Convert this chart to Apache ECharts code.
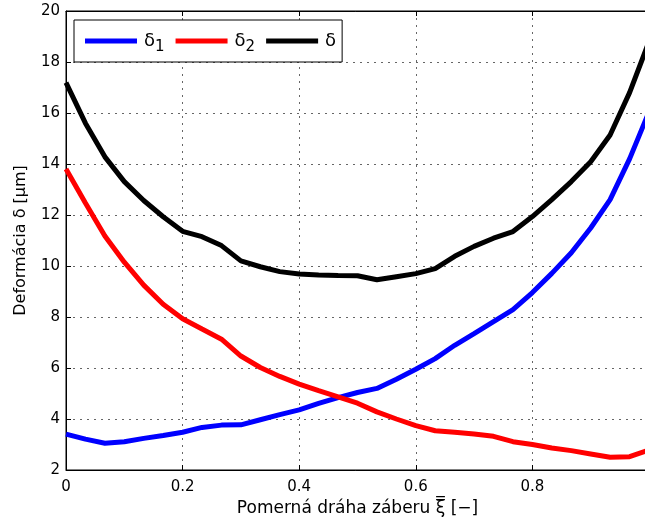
<!DOCTYPE html>
<html>
<head>
<meta charset="utf-8">
<script src="https://cdn.jsdelivr.net/npm/echarts@6/dist/echarts.min.js"></script>
<style>
html,body{margin:0;padding:0;background:#fff;}
#c{width:645px;height:521px;}
</style>
</head>
<body>
<div id="c"></div>
<script>
// relative path of contact, k/30 for k = 0..30
var xVals = [0, 0.0333, 0.0667, 0.1, 0.1333, 0.1667, 0.2, 0.2333, 0.2667, 0.3,
  0.3333, 0.3667, 0.4, 0.4333, 0.4667, 0.5, 0.5333, 0.5667, 0.6, 0.6333,
  0.6667, 0.7, 0.7333, 0.7667, 0.8, 0.8333, 0.8667, 0.9, 0.9333, 0.9667, 1.0];
var delta1 = [3.41, 3.21, 3.05, 3.11, 3.24, 3.35, 3.48, 3.67, 3.76, 3.77,
  3.97, 4.17, 4.36, 4.61, 4.84, 5.04, 5.20, 5.56, 5.95, 6.37,
  6.89, 7.35, 7.82, 8.29, 8.96, 9.71, 10.52, 11.49, 12.6, 14.2, 16.05];
var delta2 = [13.8, 12.47, 11.18, 10.15, 9.25, 8.5, 7.93, 7.53, 7.13, 6.47,
  6.02, 5.67, 5.37, 5.11, 4.87, 4.62, 4.28, 4.0, 3.74, 3.54,
  3.48, 3.41, 3.32, 3.11, 3.0, 2.86, 2.76, 2.63, 2.5, 2.52, 2.78];
var delta = [17.19, 15.6, 14.28, 13.31, 12.57, 11.93, 11.36, 11.15, 10.80, 10.2,
  9.97, 9.78, 9.69, 9.65, 9.63, 9.62, 9.46, 9.58, 9.7, 9.9,
  10.38, 10.77, 11.09, 11.35, 11.94, 12.6, 13.31, 14.09, 15.14, 16.8, 18.8];
var seriesNames = ['δ1', 'δ2', 'δ'];
var xTickLabels = ['0', '0.2', '0.4', '0.6', '0.8', ''];
var xName = 'Pomerná dráha záberu ξ\u033F [\u2212]';
var yName = 'Deformácia δ [μm]';

function pairs(ys) { return xVals.map(function (x, i) { return [x, ys[i]]; }); }

var FONT = '"DejaVu Sans", "Liberation Sans", Arial, sans-serif';
var gridLine = { show: true, lineStyle: { color: '#666', type: [2, 5], width: 1 } };

var chart = echarts.init(document.getElementById('c'));
chart.setOption({
  animation: false,
  backgroundColor: '#fff',
  grid: { left: 66, top: 11, width: 583, height: 459, show: true, borderColor: '#000', borderWidth: 1,
          containLabel: false, outerBoundsMode: 'none' },
  legend: {
    left: 74, top: 20,
    orient: 'horizontal',
    padding: [7, 6, 7, 11],
    itemWidth: 52, itemHeight: 5, itemGap: 11,
    icon: 'rect',
    borderColor: '#000', borderWidth: 1, backgroundColor: '#fff',
    data: seriesNames,
    formatter: function (n) {
      if (n.length > 1) return '{m|' + n.charAt(0) + '}{s|' + n.charAt(1) + '}';
      return '{m|' + n + '}';
    },
    textStyle: {
      fontFamily: FONT, color: '#000', padding: [0, 0, 0, 2],
      rich: {
        m: { fontSize: 18, fontFamily: FONT, color: '#000', lineHeight: 22, verticalAlign: 'middle' },
        s: { fontSize: 15, fontFamily: FONT, color: '#000', padding: [13, 0, 0, 0], lineHeight: 22, verticalAlign: 'middle' }
      }
    }
  },
  xAxis: [{
    type: 'value', min: 0, max: 1, interval: 0.2,
    name: xName, nameLocation: 'middle', nameGap: 30,
    nameTextStyle: { fontFamily: FONT, fontSize: 17, color: '#000' },
    axisLine: { show: true, onZero: false, lineStyle: { color: '#000', width: 1 } },
    axisTick: { show: true, inside: true, length: 5, lineStyle: { color: '#000' } },
    axisLabel: {
      fontFamily: FONT, fontSize: 15, color: '#000', margin: 10,
      formatter: function (v) { return xTickLabels[Math.round(v / 0.2)]; }
    },
    splitLine: gridLine
  }, {
    type: 'value', min: 0, max: 1, interval: 0.2, position: 'top',
    axisLine: { show: true, onZero: false, lineStyle: { color: '#000' } },
    axisTick: { show: true, inside: true, length: 5, lineStyle: { color: '#000' } },
    axisLabel: { show: false }, splitLine: { show: false }
  }],
  yAxis: {
    type: 'value', min: 2, max: 20, interval: 2,
    name: yName, nameLocation: 'middle', nameGap: 37, nameRotate: 90,
    nameTextStyle: { fontFamily: FONT, fontSize: 16, color: '#000' },
    axisLine: { show: true, onZero: false, lineStyle: { color: '#000', width: 1 } },
    axisTick: { show: true, inside: true, length: 5, lineStyle: { color: '#000' } },
    axisLabel: { fontFamily: FONT, fontSize: 15, color: '#000', margin: 6 },
    splitLine: gridLine
  },
  series: [
    { name: seriesNames[0], type: 'line', data: pairs(delta1), showSymbol: false, color: '#0000ff', lineStyle: { width: 5, color: '#0000ff' }, z: 3 },
    { name: seriesNames[1], type: 'line', data: pairs(delta2), showSymbol: false, color: '#ff0000', lineStyle: { width: 5, color: '#ff0000' }, z: 4 },
    { name: seriesNames[2], type: 'line', data: pairs(delta), showSymbol: false, color: '#000000', lineStyle: { width: 5, color: '#000000' }, z: 5 }
  ]
});
</script>
</body>
</html>
